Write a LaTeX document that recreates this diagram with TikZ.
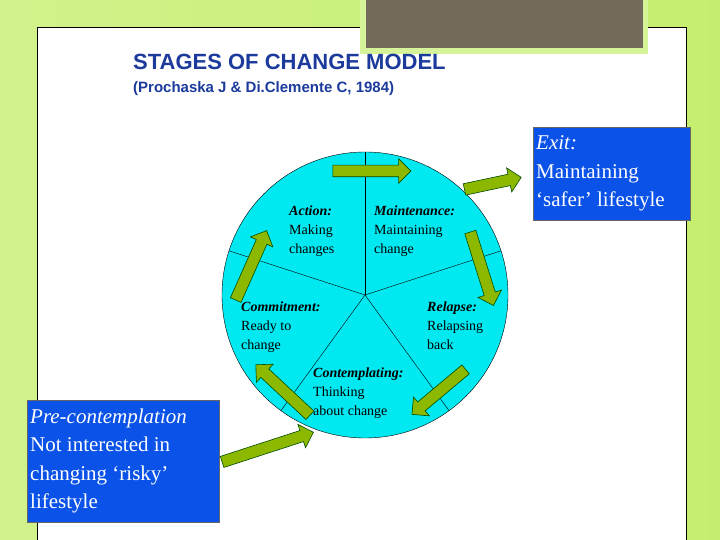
\documentclass[tikz,border=0pt]{standalone}
\usepackage{fontspec}
\setmainfont{Liberation Serif}
\newfontfamily\arial{Liberation Sans}
\usetikzlibrary{shapes.arrows}
\definecolor{bgg}{HTML}{C6EE6E}
\definecolor{cyanc}{HTML}{00E8F0}
\definecolor{arrg}{HTML}{8DB800}
\definecolor{boxb}{HTML}{0A52E8}
\definecolor{titleb}{HTML}{1B3A9C}
\definecolor{brown}{HTML}{736A5B}
\tikzset{
 garrow/.style={single arrow, draw=black!70!green, fill=arrg, line width=0.6pt, inner xsep=0pt, inner ysep=5.5pt, single arrow head extend=6.5pt, single arrow tip angle=90},
 ctext/.style={anchor=north west, align=left, font=\fontsize{14}{19}\selectfont, inner sep=0pt},
 bbox/.style={draw=black!60, fill=boxb, text=white, align=flush left, inner sep=3pt, font=\fontsize{21}{28.5}\selectfont, anchor=north west}
}
\begin{document}
\begin{tikzpicture}[x=1pt,y=1pt]
\useasboundingbox (0,0) rectangle (720,540);
\shade[left color=bgg!80!white, right color=bgg] (0,0) rectangle (720,540);
\fill[white] (37,0) rectangle (686,513);
\draw[black, line width=0.6pt] (37,0) -- (37,513) -- (686,513) -- (686,0);
\fill[bgg!70!white] (360,486) rectangle (648,540);
\fill[brown] (366,492) rectangle (643,540);
\node[anchor=west, text=titleb, font=\arial\fontsize{22}{26}\selectfont, inner sep=0pt] (title) at (133,478) {\textbf{STAGES OF CHANGE MODEL}};
\node[anchor=west, text=titleb, font=\arial\bfseries\fontsize{15}{18}\selectfont, inner sep=0pt] (sub) at (133,451) {(Prochaska J \& Di.Clemente C, 1984)};
\node[circle, draw=black, fill=cyanc, minimum size=286pt, inner sep=0pt] (c) at (365,245) {};
\coordinate (o) at (365,245);
\foreach \a in {90,18,162,-54,-126} \draw[line width=0.4pt] (o) -- (c.\a);
\node[ctext] (act) at (289,334) {\textbf{\textit{Action:}}\\Making\\changes};
\node[ctext] (mnt) at (374,334) {\textbf{\textit{Maintenance:}}\\Maintaining\\change};
\node[ctext] (com) at (241,238) {\textbf{\textit{Commitment:}}\\Ready to\\change};
\node[ctext] (rel) at (427,238) {\textbf{\textit{Relapse:}}\\Relapsing\\back};
\node[ctext] (con) at (313,172) {\textbf{\textit{Contemplating:}}\\Thinking\\about change};
\node[garrow, minimum height=78pt, rotate=0] (a1) at (369,369) {};
\node[garrow, minimum height=58pt, rotate=12] (a2) at (490,356) {};
\node[garrow, minimum height=77pt, rotate=-72.5] (a3) at (481,274) {};
\node[garrow, minimum height=70pt, rotate=220] (a4) at (441,150) {};
\node[garrow, minimum height=74pt, rotate=137] (a5) at (285,148) {};
\node[garrow, minimum height=76pt, rotate=66] (a6) at (250,272) {};
\node[garrow, minimum height=96pt, rotate=18] (a7) at (265,92) {};
\node[bbox, text width=186pt, minimum height=122pt] (pre) at (27,140) {\textit{Pre-contemplation}\\Not interested in\\changing ‘risky’\\lifestyle};
\node[bbox, text width=151pt, minimum height=93pt] (exit) at (533,413) {\textit{Exit:}\\Maintaining\\‘safer’ lifestyle};
\end{tikzpicture}
\end{document}
